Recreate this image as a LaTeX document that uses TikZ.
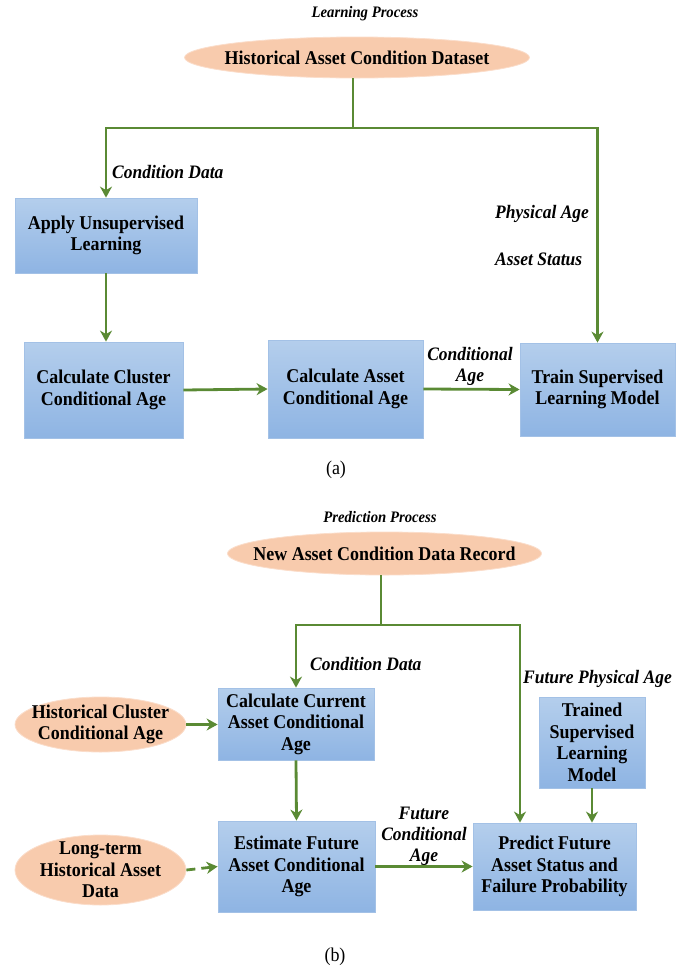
\documentclass[tikz,border=0pt]{standalone}
\usepackage{fontspec}
\setmainfont{Liberation Serif}[FakeStretch=0.92]
\usepackage{tikz}
\usetikzlibrary{shapes.geometric, arrows.meta}

\definecolor{flowgreen}{HTML}{5A8A34}
\definecolor{boxtop}{HTML}{B4CEEC}
\definecolor{boxbot}{HTML}{8EB4E3}
\definecolor{boxline}{HTML}{A3C1E6}
\definecolor{datafill}{HTML}{F8CBAD}
\definecolor{dataline}{HTML}{FBDDCA}

\begin{document}
\begin{tikzpicture}[x=1pt, y=-1pt,
    procbox/.style={draw=boxline, line width=0.8pt, top color=boxtop, bottom color=boxbot,
        align=center, inner sep=2pt, font=\fontsize{19.5}{21.5}\selectfont\bfseries},
    datanode/.style={ellipse, draw=dataline, line width=0.8pt, fill=datafill,
        inner xsep=-20pt, inner ysep=-9pt,
        align=center, font=\fontsize{19.5}{21.5}\selectfont\bfseries},
    flow/.style={draw=flowgreen, line width=2.8pt, -{Stealth[length=11pt, width=12pt, inset=3.5pt]}},
    link/.style={draw=flowgreen, line width=2.8pt},
    lbl/.style={font=\fontsize{19}{21}\selectfont\bfseries\itshape, align=center, inner sep=0pt},
    heading/.style={font=\fontsize{16}{18}\selectfont\bfseries\itshape, inner sep=0pt},
    caption/.style={font=\fontsize{19.5}{21}\selectfont, inner sep=0pt}]
    \useasboundingbox (0, 0) rectangle (684, 970);

    % (a) learning
    \node[heading] (learnhead) at (365, 14) {Learning Process};
    \node[datanode, minimum width=345, minimum height=41] (histdata) at (357, 57.5) {Historical Asset Condition Dataset};
    \node[procbox, minimum width=182, minimum height=75] (unsup) at (106, 235.5) {Apply Unsupervised\\Learning};
    \node[procbox, minimum width=159, minimum height=96] (clusterage) at (103.5, 390) {Calculate Cluster\\Conditional Age};
    \node[procbox, minimum width=155, minimum height=98] (assetage) at (345.5, 389) {Calculate Asset\\Conditional Age};
    \node[procbox, minimum width=155, minimum height=93] (trainmodel) at (597.5, 389.5) {Train Supervised\\Learning Model};

    \coordinate (splita) at (353, 128);
    \draw[link] (splita |- histdata.south) -- (splita);
    \draw[flow] (splita) -| (unsup.north);
    \draw[flow] (splita) -| (trainmodel.north);
    \draw[flow] (unsup.south) -- (unsup.south |- clusterage.north);
    \draw[flow] (clusterage.east) -- (assetage.west);
    \draw[flow] (assetage.east) -- (trainmodel.west);

    \node[lbl, anchor=west] (conddata) at (112, 172) {Condition Data};
    \node[lbl, anchor=west] (physage) at (495, 214) {Physical Age};
    \node[lbl, anchor=west] (assetstatus) at (495, 259) {Asset Status};
    \node[lbl] (condage) at (470, 366) {Conditional\\Age};
    \node[caption] (capa) at (336, 470) {(a)};

    % (b) prediction
    \node[heading] (predhead) at (380, 517) {Prediction Process};
    \node[datanode, minimum width=305, minimum height=43] (newrecord) at (384.5, 553.5) {New Asset Condition Data Record};
    \node[datanode, minimum width=171, minimum height=55] (histcluster) at (100.5, 724.5) {Historical Cluster\\Conditional Age};
    \node[datanode, minimum width=171, minimum height=70] (longterm) at (100.5, 870) {Long-term\\Historical Asset\\Data};
    \node[procbox, minimum width=156, minimum height=72] (currentage) at (296, 724) {Calculate Current\\Asset Conditional\\Age};
    \node[procbox, minimum width=157, minimum height=91] (futureage) at (296.5, 866.5) {Estimate Future\\Asset Conditional\\Age};
    \node[procbox, minimum width=106, minimum height=91] (trained) at (592, 742.5) {Trained\\Supervised\\Learning\\Model};
    \node[procbox, minimum width=163, minimum height=87] (predict) at (554.5, 866.5) {Predict Future\\Asset Status and\\Failure Probability};

    \coordinate (splitb) at (381, 625);
    \coordinate (futphys) at (520, 625);
    \draw[link] (splitb |- newrecord.south) -- (splitb);
    \draw[flow] (splitb) -| (currentage.north);
    \draw[flow] (splitb) -- (futphys) -- (futphys |- predict.north);
    \draw[flow] (histcluster.east) -- (histcluster.east -| currentage.west);
    \draw[flow] (currentage.south) -- (futureage.north);
    \draw[flow, dash pattern=on 9pt off 6pt] (longterm.east) -- (futureage.west);
    \draw[flow] (futureage.east) -- (futureage.east -| predict.west);
    \draw[flow] (trained.south) -- (trained.south |- predict.north);

    \node[lbl, anchor=west] (conddatab) at (310, 664) {Condition Data};
    \node[lbl, anchor=west] (futphyslbl) at (523, 679) {Future Physical Age};
    \node[lbl] (futcondage) at (424, 836) {Future\\Conditional\\Age};
    \node[caption] (capb) at (335, 957) {(b)};
\end{tikzpicture}
\end{document}
